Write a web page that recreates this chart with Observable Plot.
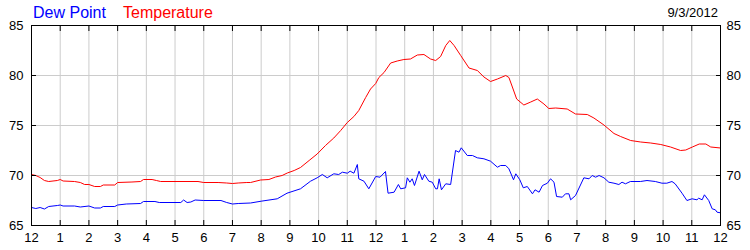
<!DOCTYPE html>
<html>
<head>
<meta charset="utf-8">
<script src="https://cdn.jsdelivr.net/npm/d3@7"></script>
<script src="https://cdn.jsdelivr.net/npm/@observablehq/plot@0.6"></script>
<style>
  html, body { margin: 0; padding: 0; background: #fff; }
  #wrap { width: 750px; height: 250px; position: relative; overflow: hidden; }
  #head { position: absolute; left: 0; top: 0; width: 750px; height: 20px; font-family: "Liberation Sans", Arial, sans-serif; z-index: 2; }
  #head span { position: absolute; white-space: nowrap; }
  .leg { font-size: 16px; line-height: 16px; top: 5px; }
  #date { font-size: 13px; line-height: 13px; top: 6px; right: 32px; color: #000; }
  svg { display: block; overflow: visible; }
</style>
</head>
<body>
<div id="wrap">
  <div id="chart"></div>
  <div id="head">
    <span class="leg" id="lgDew" style="left:33px;color:#0000ff">Dew Point</span>
    <span class="leg" id="lgTemp" style="left:123px;color:#ff0000">Temperature</span>
    <span id="date">9/3/2012</span>
  </div>
</div>
<script>
// Hour-of-day tick positions and their labels
const hourTicks = d3.range(0, 25);
const hourLabels = ["12","1","2","3","4","5","6","7","8","9","10","11","12","1","2","3","4","5","6","7","8","9","10","11","12"];
const yTicks = [65, 70, 75, 80, 85];
const yGrid = [70, 75, 80];

// Temperature (°F) samples: hours since midnight and values
const tempHours = [0,0.15,0.3,0.45,0.6,0.9,1.0,1.1,1.5,1.7,1.85,2.0,2.2,2.4,2.5,2.9,3.0,3.5,3.8,3.9,4.2,4.35,4.5,5.8,6.0,6.5,6.8,7.0,7.2,7.5,7.63,7.98,8.27,8.5,8.73,8.91,9.15,9.37,9.67,9.95,10.24,10.53,10.77,11.0,11.23,11.4,11.64,11.81,11.99,12.1,12.28,12.51,12.74,12.97,13.2,13.44,13.67,13.9,14.08,14.25,14.43,14.57,14.72,14.95,15.24,15.53,15.76,15.99,16.23,16.52,16.63,16.75,16.9,17.15,17.39,17.62,17.85,18.02,18.26,18.66,18.95,19.36,19.59,19.94,20.29,20.52,20.87,21.22,21.57,21.92,22.26,22.61,22.79,23.02,23.26,23.49,23.66,24.0];
const tempValues = [70.1,70.0,69.8,69.5,69.4,69.5,69.6,69.45,69.4,69.3,69.1,69.1,68.9,68.9,69.05,69.05,69.3,69.35,69.4,69.6,69.6,69.5,69.4,69.4,69.3,69.3,69.25,69.2,69.25,69.3,69.3,69.55,69.6,69.85,70.0,70.25,70.5,70.8,71.5,72.15,73.0,73.75,74.5,75.3,75.9,76.5,77.8,78.65,79.2,79.8,80.3,81.25,81.45,81.6,81.65,82.05,82.1,81.65,81.5,81.9,83.0,83.5,83.0,82.0,80.75,80.5,79.85,79.4,79.65,80.0,79.8,78.85,77.65,77.05,77.35,77.65,77.15,76.7,76.75,76.65,76.15,76.1,75.75,75.05,74.2,73.9,73.5,73.35,73.25,73.1,72.85,72.5,72.55,72.85,73.15,73.15,72.85,72.75];

// Dew point (°F) samples
const dewHours = [0,0.15,0.3,0.45,0.6,0.9,1.0,1.1,1.5,1.7,2.0,2.2,2.4,2.5,2.9,3.0,3.3,3.8,3.9,4.3,4.45,5.2,5.3,5.42,5.55,5.7,6.0,6.6,6.8,7.0,7.2,7.63,8.0,8.56,8.9,9.37,9.72,9.95,10.13,10.3,10.53,10.7,10.83,11.0,11.1,11.23,11.35,11.4,11.58,11.75,11.99,12.14,12.33,12.42,12.63,12.78,12.86,13.03,13.09,13.18,13.26,13.34,13.5,13.61,13.69,13.84,13.96,14.08,14.14,14.2,14.28,14.43,14.6,14.77,14.89,14.97,15.18,15.36,15.53,15.76,15.99,16.23,16.34,16.52,16.63,16.79,16.87,17.01,17.13,17.27,17.45,17.54,17.68,17.8,17.97,18.08,18.2,18.29,18.49,18.6,18.72,18.78,18.95,19.24,19.42,19.53,19.65,19.77,19.94,20.11,20.29,20.46,20.57,20.69,20.86,21.21,21.44,21.73,21.96,22.13,22.31,22.42,22.66,22.83,23.01,23.18,23.24,23.36,23.44,23.59,23.71,23.82,23.88,24.0];
const dewValues = [66.8,66.7,66.8,66.65,66.9,67.0,67.05,66.95,66.95,66.85,66.95,66.75,66.75,66.9,66.9,67.05,67.15,67.2,67.4,67.4,67.3,67.3,67.55,67.3,67.35,67.55,67.5,67.5,67.3,67.15,67.2,67.25,67.43,67.67,68.23,68.67,69.43,69.77,70.1,69.77,70.17,70.1,70.33,70.23,70.43,70.23,71.1,69.67,69.43,68.67,69.9,69.83,70.4,68.23,68.33,69.1,68.67,68.77,69.77,69.33,69.67,69.0,70.43,69.57,70.1,69.43,69.33,68.67,68.67,69.67,68.57,69.17,69.1,72.5,72.33,72.77,72.0,72.0,71.77,71.67,71.43,70.83,71.0,71.0,70.67,69.57,70.17,69.57,68.77,68.9,68.17,68.57,68.33,69.0,69.23,69.67,69.33,67.9,67.83,68.17,68.17,67.57,68.0,69.77,69.67,70.0,69.83,70.0,69.77,69.33,69.23,69.1,69.33,69.17,69.4,69.4,69.5,69.4,69.23,69.23,69.4,69.17,68.23,67.5,67.67,67.57,67.73,67.57,68.07,67.5,66.67,66.57,66.33,66.27];

const temp = tempHours.map((h, i) => ({h, v: tempValues[i]}));
const dew = dewHours.map((h, i) => ({h, v: dewValues[i]}));

const chart = Plot.plot({
  width: 750,
  height: 250,
  marginTop: 25,
  marginBottom: 25,
  marginLeft: 31,
  marginRight: 30,
  style: {fontFamily: "'Liberation Sans', Arial, sans-serif", fontSize: "13px", color: "#000", background: "#fff"},
  x: {domain: [0, 24], label: null},
  y: {domain: [65, 85], label: null},
  marks: [
    Plot.gridX(d3.range(1, 24), {stroke: "#cccccc", strokeOpacity: 1}),
    Plot.gridY(yGrid, {stroke: "#cccccc", strokeOpacity: 1}),
    Plot.line(dew, {x: "h", y: "v", stroke: "#0000ff", strokeWidth: 1}),
    Plot.line(temp, {x: "h", y: "v", stroke: "#ff0000", strokeWidth: 1}),
    Plot.frame({stroke: "#000", strokeOpacity: 1}),
    // inward tick marks
    Plot.axisX(hourTicks, {anchor: "top", tickSize: 5, dy: 5, text: null, stroke: "#000"}),
    Plot.axisX(hourTicks, {anchor: "bottom", tickSize: 5, dy: -5, text: null, stroke: "#000"}),
    Plot.axisY(yTicks, {anchor: "right", tickSize: 5, dx: -5, text: null, stroke: "#000"}),
    Plot.axisY(yTicks, {anchor: "left", tickSize: 5, dx: 5, text: null, stroke: "#000"}),
    // labels
    Plot.axisX(hourTicks, {anchor: "bottom", tickSize: 0, tickPadding: 7, tickFormat: d => hourLabels[d], fill: "#000", fontSize: 13}),
    Plot.axisY(yTicks, {anchor: "left", tickSize: 0, tickPadding: 8, fill: "#000", fontSize: 13}),
    Plot.axisY(yTicks, {anchor: "right", tickSize: 0, tickPadding: 6, fill: "#000", fontSize: 13})
  ]
});
document.getElementById("chart").appendChild(chart);
</script>
</body>
</html>
